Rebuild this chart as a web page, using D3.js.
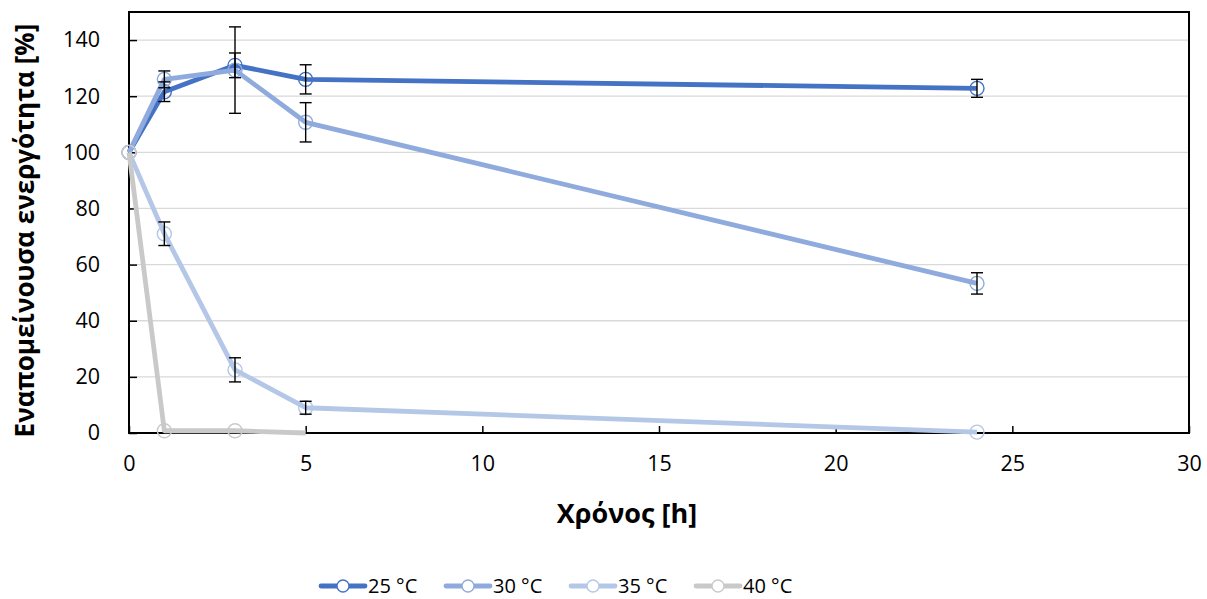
<!DOCTYPE html>
<html>
<head>
<meta charset="utf-8">
<script src="https://cdn.jsdelivr.net/npm/d3@7"></script>
<style>
  html, body { margin: 0; padding: 0; background: #fff; }
  svg { display: block; }
  text { font-family: "Open Sans", "Noto Sans", sans-serif; fill: #000; }
</style>
</head>
<body>
<svg id="chart" width="1207" height="599"></svg>
<script>
// Remaining enzyme activity over time at four temperatures
const times = [0, 1, 3, 5, 24];
const times40 = [0, 1, 3, 5];
const markerTimes40 = [0, 1, 3];

const labels = ["25 °C", "30 °C", "35 °C", "40 °C"];
const colors = ["#4472C4", "#8FAADC", "#B4C7E7", "#C9C9C9"];

const act25 = [100, 121.6, 131.0, 126.0, 122.8];
const err25 = [0, 3.5, 4.4, 5.2, 3.2];
const act30 = [100, 126.0, 129.3, 110.7, 53.3];
const err30 = [0, 3.0, 15.4, 7.0, 3.8];
const act35 = [100, 71.0, 22.5, 9.0, 0.3];
const err35 = [0, 4.2, 4.3, 2.3, 0];
const act40 = [100, 0.8, 0.8, 0];

const xTicks = [0, 5, 10, 15, 20, 25, 30];
const yTicks = [0, 20, 40, 60, 80, 100, 120, 140];

const xTitle = "Χρόνος [h]";
const yTitle = "Εναπομείνουσα ενεργότητα [%]";

const svg = d3.select("#chart");
const m = { left: 129, right: 1189, top: 12, bottom: 433 };

const x = d3.scaleLinear().domain([0, 30]).range([m.left, m.right]);
const y = d3.scaleLinear().domain([0, 150]).range([m.bottom, m.top]);

// Horizontal gridlines
svg.append("g")
  .selectAll("line")
  .data(yTicks.filter(d => d > 0))
  .join("line")
  .attr("x1", m.left).attr("x2", m.right)
  .attr("y1", d => y(d)).attr("y2", d => y(d))
  .attr("stroke", "#D9D9D9").attr("stroke-width", 1.3);

// Axes with inward ticks
const xAxis = svg.append("g")
  .attr("transform", `translate(0,${m.bottom})`)
  .call(d3.axisBottom(x).tickValues(xTicks).tickSize(-7).tickPadding(23).tickFormat(d3.format("d")));
const yAxis = svg.append("g")
  .attr("transform", `translate(${m.left},0)`)
  .call(d3.axisLeft(y).tickValues(yTicks).tickSize(-8).tickPadding(29).tickFormat(d3.format("d")));

[xAxis, yAxis].forEach(g => {
  g.select(".domain").remove();
  g.selectAll(".tick line").attr("stroke", "#000").attr("stroke-width", 1.5);
  g.selectAll(".tick text")
    .attr("font-size", 21.5)
    .style("font-family", "'Open Sans', 'Noto Sans', sans-serif")
    .attr("fill", "#000");
});
xAxis.selectAll(".tick text").attr("dy", "0.71em");

// Plot frame
svg.append("rect")
  .attr("x", m.left).attr("y", m.top)
  .attr("width", m.right - m.left).attr("height", m.bottom - m.top)
  .attr("fill", "none").attr("stroke", "#000").attr("stroke-width", 2);

const line = d3.line().x(d => x(d.t)).y(d => y(d.v));

const seriesList = [
  { pts: times.map((t, i) => ({ t, v: act25[i], e: err25[i] })), marks: times },
  { pts: times.map((t, i) => ({ t, v: act30[i], e: err30[i] })), marks: times },
  { pts: times.map((t, i) => ({ t, v: act35[i], e: err35[i] })), marks: times },
  { pts: times40.map((t, i) => ({ t, v: act40[i], e: 0 })), marks: markerTimes40 }
];

const plot = svg.append("g");
seriesList.forEach((s, k) => {
  const g = plot.append("g");
  g.append("path")
    .datum(s.pts)
    .attr("d", line)
    .attr("fill", "none")
    .attr("stroke", colors[k])
    .attr("stroke-width", 4.8)
    .attr("stroke-linejoin", "round");
  g.selectAll("circle")
    .data(s.pts.filter(p => s.marks.includes(p.t)))
    .join("circle")
    .attr("cx", d => x(d.t)).attr("cy", d => y(d.v))
    .attr("r", 7)
    .attr("fill", "none")
    .attr("stroke", colors[k])
    .attr("stroke-width", 1.4);
});

// Error bars (mean ± SD)
const eb = svg.append("g").attr("stroke", "#000").attr("stroke-width", 1.4);
seriesList.forEach(s => {
  s.pts.filter(p => p.e > 0).forEach(p => {
    const cx = x(p.t);
    const lo = y(Math.max(0, p.v - p.e));
    const hi = y(p.v + p.e);
    eb.append("line").attr("x1", cx).attr("x2", cx).attr("y1", lo).attr("y2", hi);
    eb.append("line").attr("x1", cx - 6).attr("x2", cx + 6).attr("y1", hi).attr("y2", hi);
    eb.append("line").attr("x1", cx - 6).attr("x2", cx + 6).attr("y1", lo).attr("y2", lo);
  });
});

// Axis titles
svg.append("text")
  .attr("x", 627).attr("y", 523)
  .attr("text-anchor", "middle")
  .attr("font-size", 27).attr("font-weight", "bold")
  .text(xTitle);

svg.append("text")
  .attr("transform", `translate(34,${(m.top + m.bottom) / 2 + 8}) rotate(-90)`)
  .attr("text-anchor", "middle")
  .attr("font-size", 26).attr("font-weight", "bold")
  .text(yTitle);

// Legend
const legend = svg.append("g").attr("transform", "translate(321,586)");
labels.forEach((lab, k) => {
  const g = legend.append("g").attr("transform", `translate(${k * 125},0)`);
  g.append("line")
    .attr("x1", 0).attr("x2", 44).attr("y1", 0).attr("y2", 0)
    .attr("stroke", colors[k]).attr("stroke-width", 4.8).attr("stroke-linecap", "round");
  g.append("circle")
    .attr("cx", 22).attr("cy", 0).attr("r", 6)
    .attr("fill", "#fff").attr("stroke", colors[k]).attr("stroke-width", 1.3);
  g.append("text")
    .attr("x", 47).attr("y", 7)
    .attr("font-size", 20)
    .text(lab);
});
</script>
</body>
</html>
